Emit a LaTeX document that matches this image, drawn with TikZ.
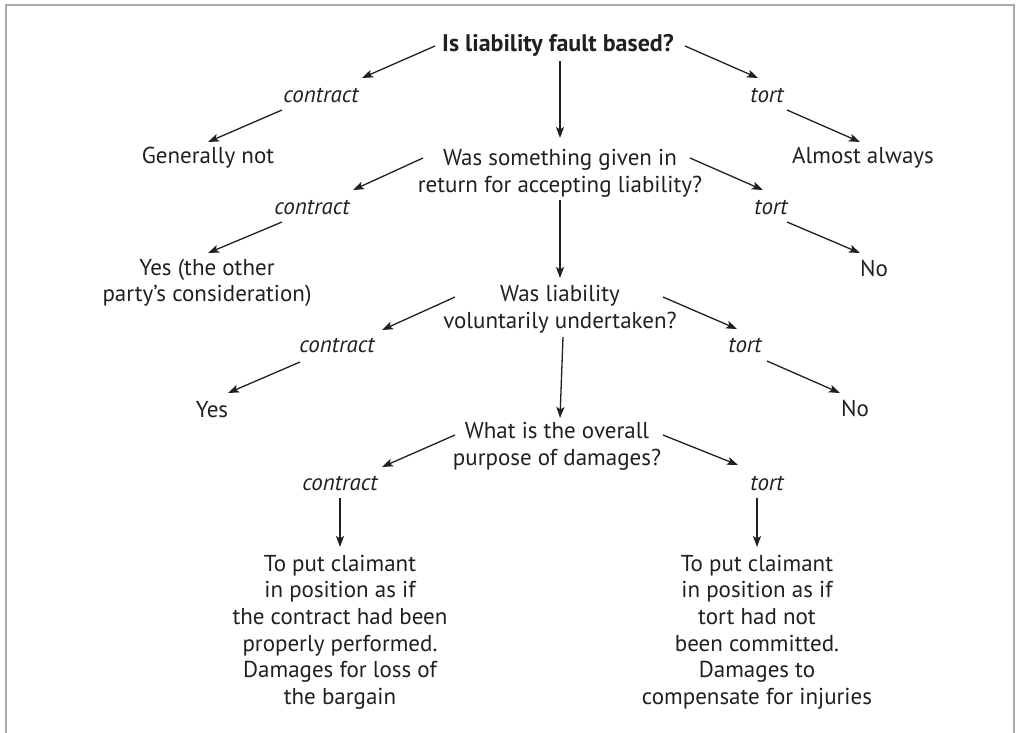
\documentclass[tikz,border=0pt]{standalone}
\usepackage{fontspec}
\setmainfont{PT Sans}
\usetikzlibrary{arrows.meta}
\definecolor{ink}{HTML}{231F20}
\definecolor{framegray}{HTML}{A7A9AC}
\begin{document}
\begin{tikzpicture}[x=1pt,y=-1pt,
  txt/.style={inner sep=0pt, align=center, text=ink, font=\fontsize{23}{26.6}\selectfont},
  lbl/.style={txt, font=\fontsize{23}{26.6}\selectfont\itshape},
  arr/.style={draw=ink, line width=1.3pt, -{Stealth[length=11pt,width=8pt,inset=2.5pt]}}]
\useasboundingbox (0,0) rectangle (1026,732);
\draw[framegray, line width=2pt] (6,740) -- (6,5) -- (1014,5) -- (1014,740);
% nodes
\node[txt, font=\fontsize{24}{26.6}\selectfont\bfseries] (q1) at (558,45) {Is liability fault based?};
\node[lbl] (c1) at (321,95) {contract};
\node[txt] (gn) at (208,158) {Generally not};
\node[lbl] (t1) at (767,95) {tort};
\node[txt] (aa) at (863,158) {Almost always};
\node[txt] (q2) at (560,173) {Was something given in\\return for accepting liability?};
\node[lbl] (c2) at (312,207) {contract};
\node[txt] (yes1) at (207,283) {Yes (the other\\party’s consideration)};
\node[lbl] (t2) at (771,207) {tort};
\node[txt] (no1) at (874,268) {No};
\node[txt] (q3) at (560,309) {Was liability\\voluntarily undertaken?};
\node[lbl] (c3) at (337,345) {contract};
\node[txt] (yes2) at (212,410) {Yes};
\node[lbl] (t3) at (745,345) {tort};
\node[txt] (no2) at (855,408) {No};
\node[txt] (q4) at (557,446) {What is the overall\\purpose of damages?};
\node[lbl] (c4) at (340,483) {contract};
\node[lbl] (t4) at (767,483) {tort};
\node[txt] (b1) at (340,632) {To put claimant\\in position as if\\the contract had been\\properly performed.\\Damages for loss of\\the bargain};
\node[txt] (b2) at (757,632) {To put claimant\\in position as if\\tort had not\\been committed.\\Damages to\\compensate for injuries};
% connectors
\draw[arr] ([shift={(-123,1)}]q1.center) -- ([shift={(41,-17)}]c1.center);
\draw[arr] ([shift={(-39,15)}]c1.center) -- ([shift={(0,-16)}]gn.center);
\draw[arr] ([shift={(127,1)}]q1.center) -- ([shift={(-9,-17)}]t1.center);
\draw[arr] ([shift={(20,15)}]t1.center) -- ([shift={(-3,-16)}]aa.center);
\draw[arr] ([shift={(2,16)}]q1.center) -- ([shift={(0,-35)}]q2.center);
\draw[arr] ([shift={(-137,-15)}]q2.center) -- ([shift={(41,-17)}]c2.center);
\draw[arr] ([shift={(-30,15)}]c2.center) -- ([shift={(1,-30)}]yes1.center);
\draw[arr] ([shift={(130,-15)}]q2.center) -- ([shift={(-8,-17)}]t2.center);
\draw[arr] ([shift={(16,15)}]t2.center) -- ([shift={(-14,-15)}]no1.center);
\draw[arr] ([shift={(0,27)}]q2.center) -- ([shift={(0,-31)}]q3.center);
\draw[arr] ([shift={(-105,-12)}]q3.center) -- ([shift={(45,-15)}]c3.center);
\draw[arr] ([shift={(-37,17)}]c3.center) -- ([shift={(16,-17)}]yes2.center);
\draw[arr] ([shift={(103,-12)}]q3.center) -- ([shift={(-8,-16)}]t3.center);
\draw[arr] ([shift={(22,16)}]t3.center) -- ([shift={(-15,-15)}]no2.center);
\draw[arr] ([shift={(3,28)}]q3.center) -- ([shift={(3,-28)}]q4.center);
\draw[arr] ([shift={(-102,-11)}]q4.center) -- ([shift={(42,-16)}]c4.center);
\draw[arr] ([shift={(0,15)}]c4.center) -- ([shift={(0,-85)}]b1.center);
\draw[arr] ([shift={(106,-11)}]q4.center) -- ([shift={(-29,-18)}]t4.center);
\draw[arr] ([shift={(-10,15)}]t4.center) -- ([shift={(0,-85)}]b2.center);
\end{tikzpicture}
\end{document}
